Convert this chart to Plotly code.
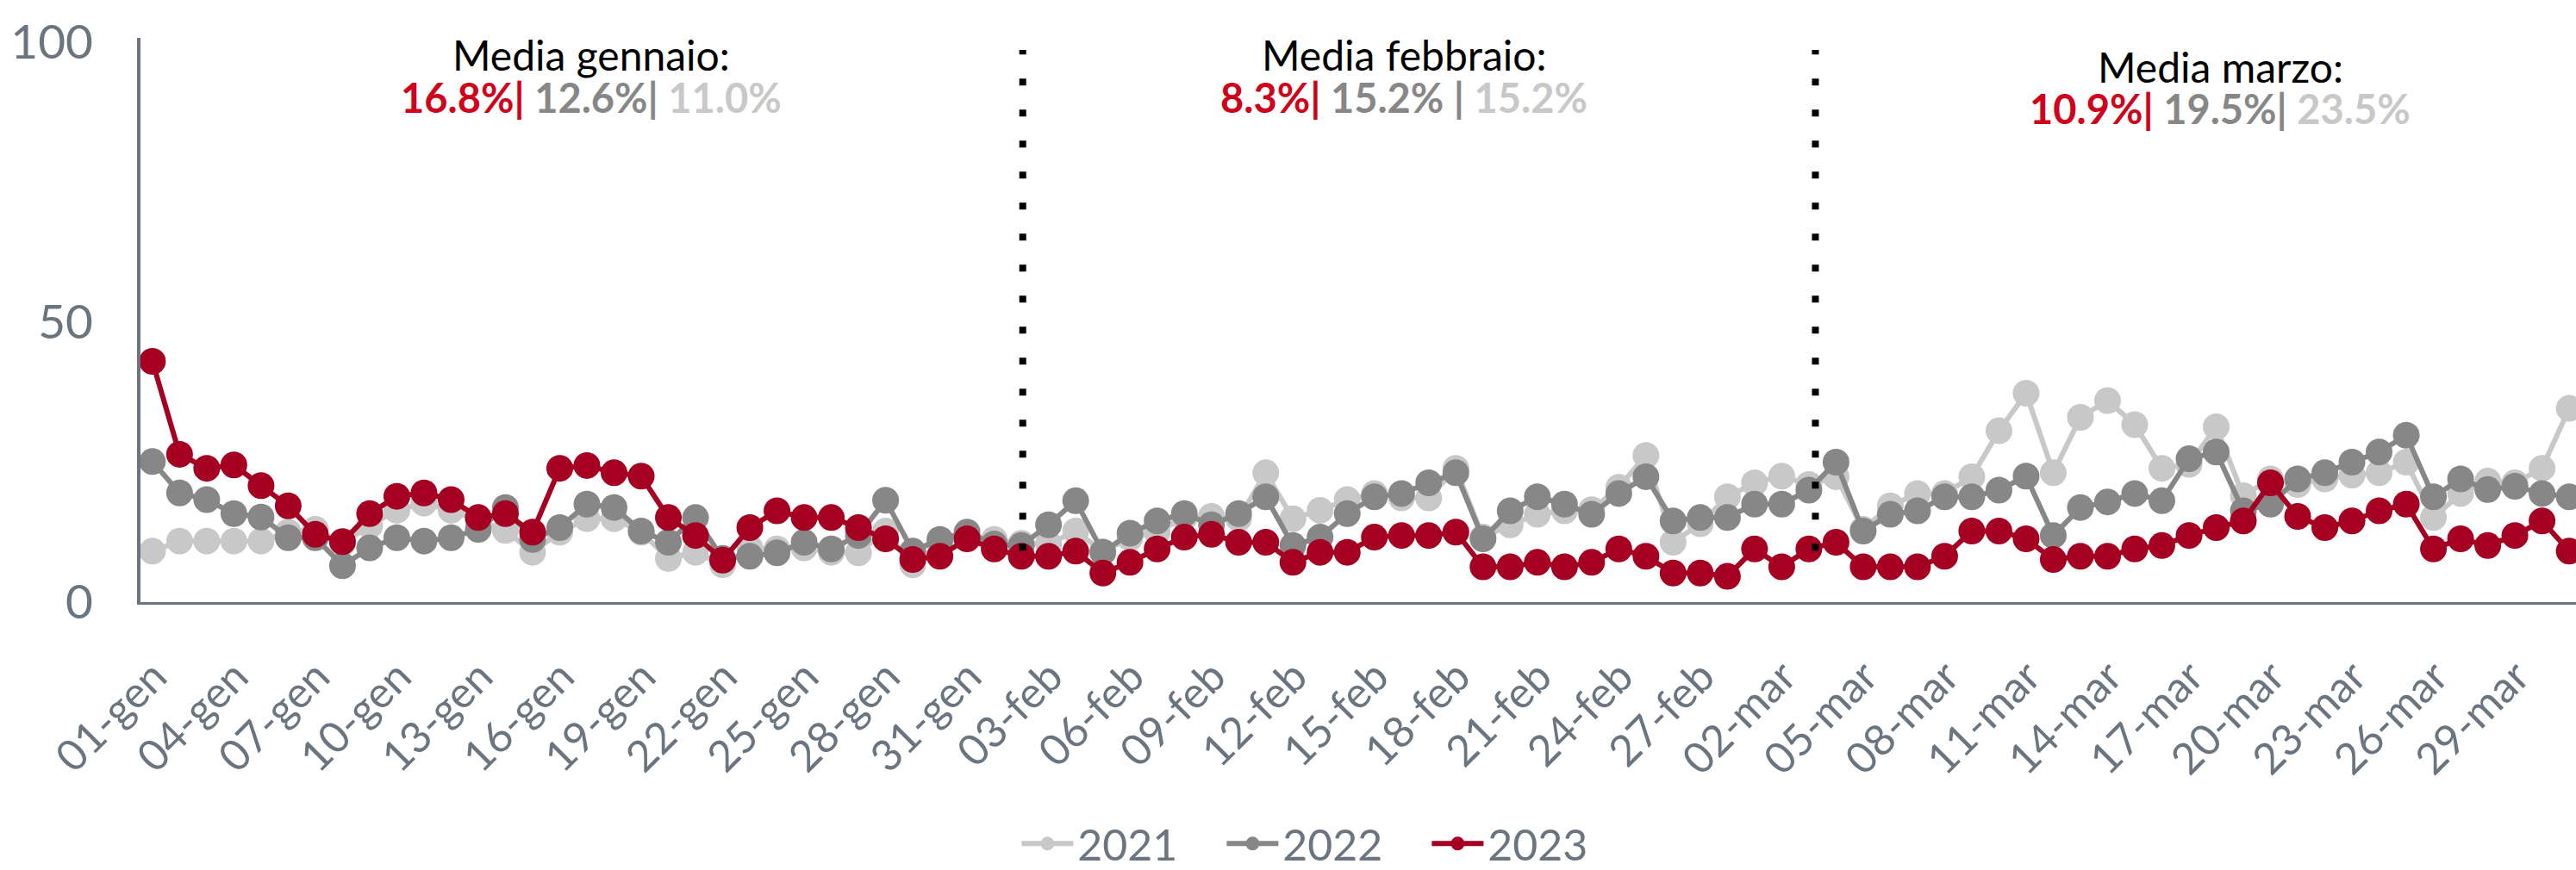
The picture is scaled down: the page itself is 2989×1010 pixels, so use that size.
"""Daily share chart, Jan-Mar: 2021 vs 2022 vs 2023 with monthly averages."""

from __future__ import annotations

import plotly.graph_objects as go

MONTHS = [("gen", 31), ("feb", 28), ("mar", 31)]
DAYS = [f"{d:02d}-{m}" for m, n in MONTHS for d in range(1, n + 1)]
TICK_DAYS = DAYS[::3]

VALUES_2021 = [
    9.1, 10.9, 10.9, 10.9, 10.9, 12.5, 13.0, 10.5, 13.7, 16.4,
    17.7, 16.4, 14.5, 12.8, 8.9, 12.5, 14.9, 14.9, 12.5, 7.8,
    8.9, 6.7, 9.7, 9.5, 9.7, 8.9, 8.8, 12.7, 6.7, 10.4,
    11.9, 11.2, 10.5, 10.4, 12.7, 9.0, 11.5, 12.5, 15.1, 15.3,
    14.9, 23.1, 14.9, 16.4, 18.3, 19.4, 18.6, 18.6, 23.9, 11.6,
    13.8, 15.7, 16.3, 16.5, 20.5, 26.2, 10.7, 14.0, 18.8, 21.3,
    22.5, 21.0, 22.4, 13.0, 17.2, 19.4, 19.4, 22.4, 30.6, 37.3,
    23.1, 33.0, 36.0, 31.7, 23.9, 24.6, 31.3, 19.0, 22.0, 21.0,
    22.0, 22.7, 23.1, 25.0, 15.1, 19.4, 21.6, 21.3, 23.9, 34.6,
]
VALUES_2022 = [
    25.1, 19.5, 18.3, 15.8, 15.2, 11.5, 11.5, 6.5, 9.7, 11.5,
    10.9, 11.5, 13.0, 16.9, 11.2, 13.3, 17.5, 16.9, 12.7, 10.7,
    15.1, 7.8, 8.2, 8.8, 10.7, 9.5, 11.9, 18.2, 9.1, 11.2,
    12.5, 10.4, 10.1, 13.8, 18.1, 8.9, 12.3, 14.5, 15.8, 13.8,
    15.8, 18.8, 10.1, 11.6, 15.8, 18.8, 19.4, 21.3, 23.1, 11.3,
    16.3, 18.8, 17.5, 15.7, 19.4, 22.4, 14.5, 15.1, 15.1, 17.5,
    17.5, 20.0, 25.0, 12.7, 15.7, 16.3, 18.8, 18.8, 20.0, 22.5,
    11.9, 16.9, 17.9, 19.4, 18.1, 25.6, 26.8, 16.3, 17.5, 22.0,
    23.1, 25.0, 26.8, 29.8, 18.8, 22.0, 20.1, 20.7, 19.4, 18.8,
]
VALUES_2023 = [
    43.0, 26.4, 23.9, 24.5, 20.8, 17.2, 12.1, 10.8, 15.8, 18.9,
    19.5, 18.3, 15.1, 15.8, 12.5, 23.9, 24.4, 23.1, 22.5, 15.1,
    11.9, 7.5, 13.3, 16.3, 15.1, 15.1, 13.3, 11.3, 7.6, 8.2,
    11.3, 9.5, 8.2, 8.2, 9.1, 5.2, 7.1, 9.5, 11.6, 12.1,
    10.7, 10.7, 7.1, 8.9, 8.9, 11.6, 11.9, 11.9, 12.5, 6.3,
    6.3, 7.1, 6.3, 7.1, 9.5, 8.2, 5.2, 5.2, 4.6, 9.5,
    6.3, 9.5, 10.7, 6.3, 6.3, 6.3, 8.2, 12.7, 12.7, 11.3,
    7.6, 8.2, 8.2, 9.5, 10.1, 11.9, 13.3, 14.5, 21.3, 15.3,
    13.3, 14.5, 16.3, 17.5, 9.5, 11.3, 10.1, 11.9, 14.5, 9.1,
]

MONTH_TITLES = ["Media gennaio:", "Media febbraio:", "Media marzo:"]
AVG_2023 = ["16.8%|", "8.3%|", "10.9%|"]
AVG_2022 = ["12.6%|", "15.2% |", "19.5%|"]
AVG_2021 = ["11.0%", "15.2%", "23.5%"]

RED = "#a50021"
RED_TEXT = "#d0021b"
DARK = "#878787"
LIGHT = "#c8c8c8"
AXIS = "#6b7580"
FONT = "Lato, 'Open Sans', sans-serif"


def build_figure() -> go.Figure:
    fig = go.Figure()
    for name, values, color in (
        ("2021", VALUES_2021, LIGHT),
        ("2022", VALUES_2022, DARK),
        ("2023", VALUES_2023, RED),
    ):
        fig.add_trace(
            go.Scatter(
                x=DAYS,
                y=values,
                name=name,
                mode="lines+markers",
                line={"color": color, "width": 6},
                marker={"color": color, "size": 31},
            )
        )

    # dotted month separators (hand placed in the original)
    for xpos in (32.05, 61.24):
        fig.add_shape(
            type="line",
            xref="x",
            yref="y",
            x0=xpos,
            x1=xpos,
            y0=9.2,
            y1=98.6,
            line={"color": "black", "width": 8, "dash": "8px,28px"},
        )

    # monthly averages, two separate lines each
    centers = [0.185, 0.5188, 0.854]
    title_y = [0.9695, 0.9695, 0.9496]
    for i, xc in enumerate(centers):
        fig.add_annotation(
            text=MONTH_TITLES[i],
            xref="paper",
            yref="paper",
            x=xc,
            y=title_y[i],
            xanchor="center",
            yanchor="middle",
            showarrow=False,
            font={"family": FONT, "size": 48, "color": "black"},
        )
        fig.add_annotation(
            text=(
                f"<b><span style='color:{RED_TEXT}'>{AVG_2023[i]}</span> "
                f"<span style='color:{DARK}'>{AVG_2022[i]}</span> "
                f"<span style='color:{LIGHT}'>{AVG_2021[i]}</span></b>"
            ),
            xref="paper",
            yref="paper",
            x=xc,
            y=title_y[i] - 0.0748,
            xanchor="center",
            yanchor="middle",
            showarrow=False,
            font={"family": FONT, "size": 47},
        )

    fig.update_layout(
        width=2989,
        height=1010,
        margin={"l": 163, "r": 0, "t": 44, "b": 311, "autoexpand": False},
        paper_bgcolor="white",
        plot_bgcolor="white",
        font={"family": FONT, "color": AXIS},
        showlegend=True,
        legend={
            "orientation": "h",
            "x": 0.360,
            "xanchor": "left",
            "y": -0.428,
            "yanchor": "middle",
            "font": {"size": 50, "color": AXIS},
            "itemwidth": 60,
            "entrywidth": 163,
        },
    )
    fig.update_xaxes(
        type="category",
        categoryorder="array",
        categoryarray=DAYS,
        range=[-0.44, 89.25],
        tickmode="array",
        tickvals=TICK_DAYS,
        ticktext=TICK_DAYS,
        tickangle=-45,
        tickfont={"size": 50, "color": AXIS},
        ticklabelstandoff=34,
        ticklabelshift=2,
        showgrid=False,
        zeroline=False,
        showline=True,
        linecolor=AXIS,
        linewidth=3,
        ticks="",
    )
    fig.update_yaxes(
        range=[0, 100.77],
        tickvals=[0, 50, 100],
        tickfont={"size": 55, "color": AXIS},
        ticklabelstandoff=40,
        showgrid=False,
        zeroline=False,
        showline=True,
        linecolor=AXIS,
        linewidth=4,
        ticks="",
    )
    return fig


if __name__ == "__main__":
    build_figure().write_html(
        "out.html",
        config={"displayModeBar": False},
        post_script="document.body.style.margin = '0';",
    )
